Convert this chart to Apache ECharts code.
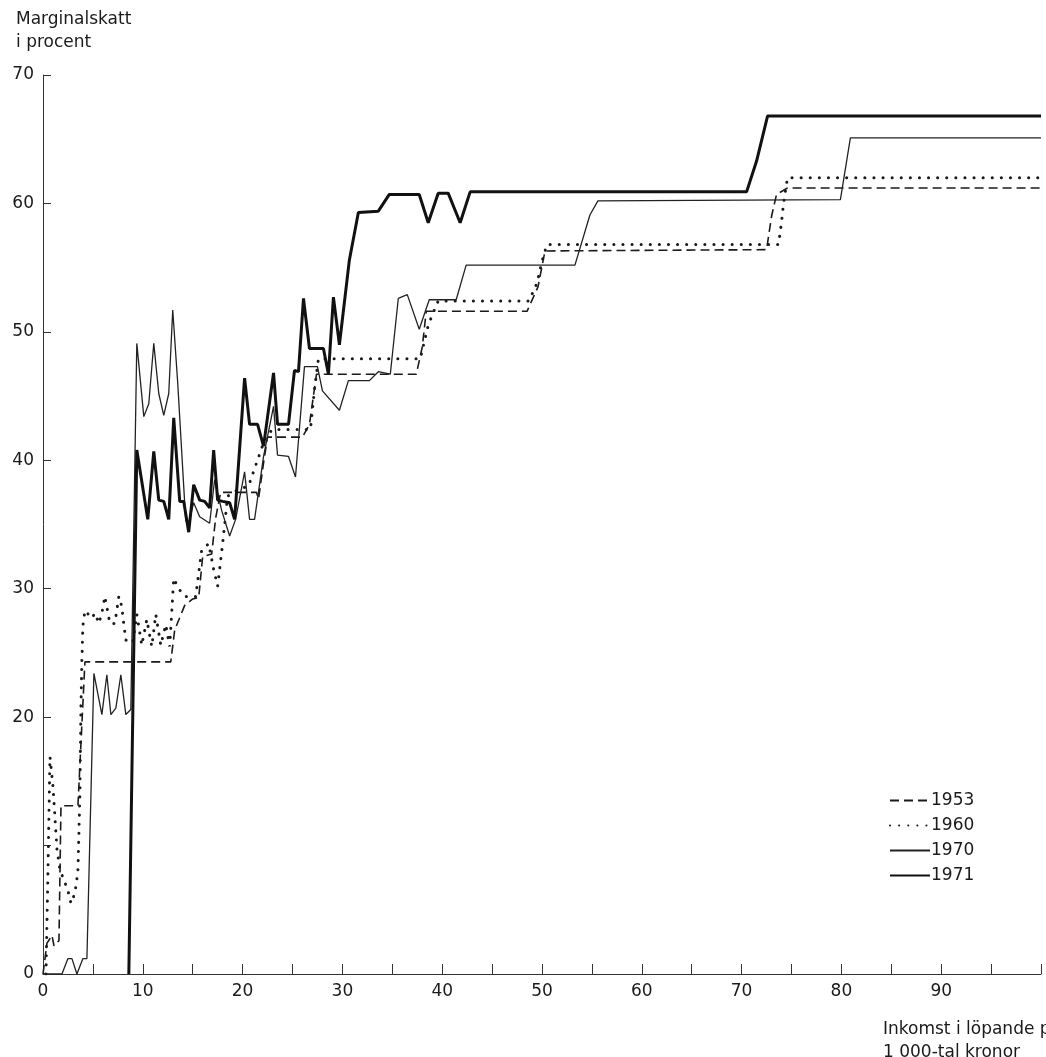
<!DOCTYPE html>
<html><head><meta charset="utf-8">
<script src="https://cdn.jsdelivr.net/npm/echarts/dist/echarts.min.js"></script>
<style>html,body{margin:0;padding:0;background:#fff}#c{width:1046px;height:1057px}</style>
</head><body><div id="c"></div>
<script>
// Marginal tax (%) versus income (1 000 kronor)
const seriesNames = ['1953', '1960', '1970', '1971'];

const data1953 = [[0,0],[0.4,2.4],[0.9,3.0],[1.1,2.2],[1.6,2.6],[1.8,13.1],[3.5,13.1],[4.2,24.3],[12.8,24.3],[13.2,26.8],[14.2,28.7],[15.0,29.2],[15.6,29.3],[16.0,32.5],[16.9,32.7],[17.3,35.5],[17.8,37.5],[21.4,37.5],[21.6,37.0],[22.1,39.8],[22.5,41.8],[26.0,41.8],[26.7,42.8],[27.4,46.7],[37.4,46.7],[38.0,48.8],[38.4,51.6],[48.5,51.6],[49.6,53.5],[50.3,56.3],[72.5,56.4],[73.0,59.0],[73.5,60.7],[74.6,61.2],[100,61.2]];

const data1960 = [[0.3,0],[0.5,8],[0.7,16.9],[1.0,14.6],[1.4,9.7],[1.7,8.1],[2.5,6.5],[2.8,5.5],[3.2,6.3],[3.5,8],[3.7,14],[3.8,20.6],[3.9,24.5],[4.0,27.1],[4.2,28.3],[4.9,27.7],[5.2,28.1],[5.6,27.3],[5.9,28.1],[6.2,29.4],[6.7,27.3],[7.2,27.3],[7.6,29.4],[7.9,28.6],[8.1,27.2],[8.3,26.0],[9.0,25.8],[9.4,28.0],[9.9,25.6],[10.4,27.6],[10.9,25.5],[11.3,28.0],[11.8,25.6],[12.3,27.2],[12.7,25.5],[13.1,30.8],[13.6,30.0],[14.2,29.4],[15.3,29.4],[15.9,33.0],[16.6,33.5],[17.1,31.5],[17.5,30.2],[18.0,33.5],[18.5,37.2],[19.5,37.7],[20.6,38.0],[21.4,39.8],[22.3,41.8],[23.0,42.4],[26.8,42.4],[27.2,45.5],[27.6,47.9],[37.8,47.9],[38.2,49.2],[38.6,50.5],[39.1,51.5],[39.6,52.4],[48.7,52.4],[49.5,53.8],[50.0,55.5],[50.5,56.8],[73.7,56.8],[74.0,58.5],[74.2,60.0],[74.6,62.0],[100,62.0]];

const data1970 = [[0,0],[1.9,0],[2.5,1.2],[2.9,1.2],[3.4,0],[4.0,1.2],[4.4,1.2],[5.1,23.4],[5.9,20.2],[6.4,23.3],[6.8,20.2],[7.3,20.7],[7.8,23.3],[8.3,20.2],[8.8,20.6],[9.4,49.1],[10.1,43.4],[10.6,44.4],[11.1,49.1],[11.6,45.2],[12.1,43.5],[12.6,45.2],[13.0,51.7],[13.5,46.0],[14.3,35.3],[14.6,35.1],[15.1,36.7],[15.7,35.6],[16.7,35.1],[17.2,38.5],[17.9,36.1],[18.7,34.1],[19.3,35.4],[20.2,39.1],[20.7,35.4],[21.2,35.4],[22.1,40.3],[23.1,44.2],[23.5,40.4],[24.6,40.3],[25.3,38.7],[26.2,47.3],[27.5,47.3],[28.0,45.4],[29.7,43.9],[30.6,46.2],[32.7,46.2],[33.6,46.9],[34.8,46.7],[35.6,52.6],[36.5,52.9],[37.7,50.2],[38.7,52.5],[41.4,52.5],[42.4,55.2],[53.3,55.2],[54.8,59.1],[55.6,60.2],[79.9,60.3],[80.9,65.1],[100,65.1]];

const data1971 = [[8.6,0],[9.4,40.8],[10.5,35.4],[11.1,40.7],[11.6,36.9],[12.1,36.8],[12.6,35.4],[13.1,43.3],[13.7,36.8],[14.1,36.8],[14.6,34.4],[15.1,38.1],[15.7,36.9],[16.2,36.8],[16.7,36.3],[17.1,40.8],[17.5,36.9],[18.0,36.8],[18.7,36.7],[19.2,35.4],[20.2,46.4],[20.7,42.8],[21.5,42.8],[22.1,41.1],[23.1,46.8],[23.5,42.8],[24.6,42.8],[25.2,47.0],[25.6,46.9],[26.1,52.6],[26.7,48.7],[28.1,48.7],[28.6,46.7],[29.1,52.7],[29.7,49.0],[30.7,55.6],[31.6,59.3],[33.6,59.4],[34.7,60.7],[37.7,60.7],[38.6,58.5],[39.6,60.8],[40.6,60.8],[41.8,58.5],[42.8,60.9],[70.5,60.9],[71.5,63.3],[72.6,66.8],[100,66.8]];

const yTitle = 'Marginalskatt\ni procent';
const xTitle = 'Inkomst i löpande priser\n1 000-tal kronor';

const ink = '#1a1a1a';
const font = '"DejaVu Sans", "Liberation Sans", Arial, sans-serif';

const chart = echarts.init(document.getElementById('c'), null, {renderer: 'canvas'});
chart.setOption({
  animation: false,
  backgroundColor: '#ffffff',
  textStyle: {fontFamily: font, color: ink},
  title: [
    {text: yTitle, left: 11, top: 3, textStyle: {fontFamily: font, fontSize: 17, fontWeight: 'normal', color: ink, lineHeight: 23}},
    {text: xTitle, left: 878, top: 1013, textStyle: {fontFamily: font, fontSize: 17, fontWeight: 'normal', color: ink, lineHeight: 23}}
  ],
  grid: {left: 43, right: 5, top: 75, bottom: 83, containLabel: false},
  legend: {
    orient: 'vertical', left: 884, top: 787, itemWidth: 40, itemHeight: 14, itemGap: 8,
    itemStyle: {opacity: 0, color: 'transparent', borderWidth: 0},
    textStyle: {fontFamily: font, fontSize: 17, color: ink, padding: [0,0,0,-4]},
    data: seriesNames
  },
  xAxis: {
    type: 'value', min: 0, max: 100, interval: 5,
    axisLine: {lineStyle: {color: '#333', width: 1}},
    axisTick: {inside: true, length: 10, lineStyle: {color: '#333', width: 1}},
    axisLabel: {margin: 9, fontSize: 17, color: ink, fontFamily: font,
      formatter: v => (v % 10 === 0 && v < 100) ? String(v) : ''},
    splitLine: {show: false}
  },
  yAxis: {
    type: 'value', min: 0, max: 70, interval: 10,
    axisLine: {show: true, lineStyle: {color: '#333', width: 1}},
    axisTick: {show: true, inside: true, length: 8, lineStyle: {color: '#333', width: 1}},
    axisLabel: {margin: 9, fontSize: 17, color: ink, fontFamily: font,
      formatter: v => v === 10 ? '' : String(v)},
    splitLine: {show: false}
  },
  series: [
    {name: '1953', type: 'line', data: data1953, symbol: 'none', showSymbol: false,
     lineStyle: {color: ink, width: 1.6, type: [9, 5]}, itemStyle: {color: ink}},
    {name: '1960', type: 'line', data: data1960, symbol: 'none', showSymbol: false,
     lineStyle: {color: ink, width: 3, type: [0.1, 9], cap: 'round'}, itemStyle: {color: ink}},
    {name: '1970', type: 'line', data: data1970, symbol: 'none', showSymbol: false,
     lineStyle: {color: '#222', width: 1.3}, itemStyle: {color: '#222'}},
    {name: '1971', type: 'line', data: data1971, symbol: 'none', showSymbol: false,
     lineStyle: {color: '#111', width: 3}, itemStyle: {color: '#111'}}
  ]
});
</script>
</body></html>
